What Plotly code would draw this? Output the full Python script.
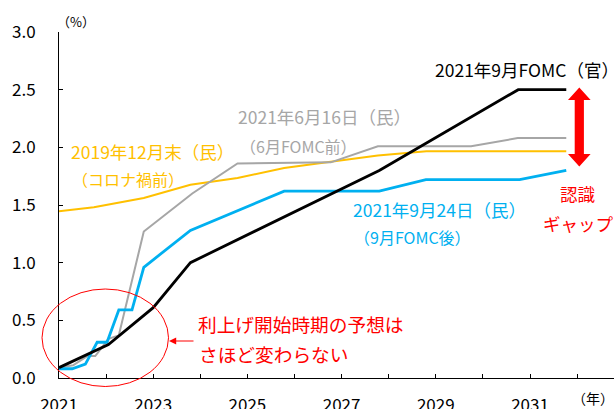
import plotly.graph_objects as go

# ---- data ----
black_x = [2021.0, 2022.05, 2023.0, 2023.79, 2027.8, 2030.75, 2031.77]
black_y = [0.09, 0.29, 0.61, 1.0, 1.8, 2.5, 2.5]

gray_x = [2021.0, 2021.3, 2021.6, 2021.77, 2022.05, 2022.27, 2022.8, 2023.83,
          2024.79, 2026.77, 2027.77, 2029.75, 2030.74, 2031.77]
gray_y = [0.09, 0.11, 0.19, 0.19, 0.34, 0.37, 1.27, 1.60,
          1.86, 1.87, 2.01, 2.01, 2.08, 2.08]

blue_x = [2021.0, 2021.28, 2021.56, 2021.81, 2022.02, 2022.27, 2022.55, 2022.8,
          2023.79, 2024.79, 2025.78, 2027.8, 2028.79, 2030.78, 2031.77]
blue_y = [0.08, 0.08, 0.12, 0.31, 0.31, 0.59, 0.59, 0.96,
          1.28, 1.45, 1.62, 1.62, 1.72, 1.72, 1.80]

yellow_x = [2021.0, 2021.74, 2022.8, 2023.79, 2024.79, 2025.78, 2026.77,
            2027.77, 2028.8, 2031.77]
yellow_y = [1.445, 1.48, 1.56, 1.675, 1.735, 1.82, 1.875,
            1.93, 1.966, 1.966]

year_ticks = list(range(2021, 2033))
year_labels = [str(y) if y % 2 == 1 else "" for y in year_ticks]
y_ticks = [0.0, 0.5, 1.0, 1.5, 2.0, 2.5, 3.0]

FONT = "Noto Sans CJK JP"
BLACK = "#000000"
GRAY = "#A6A6A6"
BLUE = "#00B0F0"
ORANGE = "#FFC000"
RED = "#FF0000"

W, H = 614, 409
ML, MR, MT, MB = 59, 0, 32, 31
PW, PH = W - ML - MR, H - MT - MB


def xp(px):
    return (px - ML) / PW


def yp(py):
    return (H - MB - py) / PH


fig = go.Figure()
fig.add_trace(go.Scatter(x=yellow_x, y=yellow_y, mode="lines",
                         line=dict(color=ORANGE, width=2), hoverinfo="skip"))
fig.add_trace(go.Scatter(x=gray_x, y=gray_y, mode="lines",
                         line=dict(color=GRAY, width=2), hoverinfo="skip"))
fig.add_trace(go.Scatter(x=blue_x, y=blue_y, mode="lines",
                         line=dict(color=BLUE, width=2.8), hoverinfo="skip"))
fig.add_trace(go.Scatter(x=black_x, y=black_y, mode="lines",
                         line=dict(color=BLACK, width=2.8), hoverinfo="skip"))


def label(text, px, py, color, size, anchor="left"):
    fig.add_annotation(text=text, xref="paper", yref="paper", x=xp(px), y=yp(py),
                       xanchor=anchor, yanchor="middle", showarrow=False,
                       font=dict(family=FONT, size=size, color=color))


label("2021年9月FOMC（官）", 621, 69, BLACK, 17.5, "right")
label("2021年6月16日（民）", 236, 116.5, GRAY, 17.5)
label("（6月FOMC前）", 238, 146, GRAY, 16)
label("2019年12月末（民）", 69, 151.5, ORANGE, 17.5)
label("（コロナ禍前）", 70, 179, ORANGE, 16)
label("2021年9月24日（民）", 351, 209, BLUE, 17.5)
label("（9月FOMC後）", 352, 237, BLUE, 16)
label("認識", 578, 193, RED, 17.5, "center")
label("ギャップ", 541, 223, RED, 17.5)
label("利上げ開始時期の予想は", 196, 323, RED, 18.7)
label("さほど変わらない", 197, 353, RED, 18.7)
label("（%）", 55, 21, BLACK, 13)
label("（年）", 570, 398, BLACK, 14)

# ellipse
fig.add_shape(type="circle", xref="paper", yref="paper",
              x0=xp(42), x1=xp(168.5), y0=yp(386.5), y1=yp(289),
              line=dict(color=RED, width=1))

# small left arrow
fig.add_annotation(xref="paper", yref="paper", x=xp(169), y=yp(341),
                   ax=26, ay=0, text="", showarrow=True, arrowhead=2,
                   arrowsize=1.2, arrowwidth=1.2, arrowcolor=RED, standoff=0)

# double arrow (cognition gap)
cx = 579.3
pts = [(cx, 87.5), (cx + 11.3, 100), (cx + 4.6, 100), (cx + 4.6, 154),
       (cx + 11.3, 154), (cx, 166.5), (cx - 11.3, 154), (cx - 4.6, 154),
       (cx - 4.6, 100), (cx - 11.3, 100)]
path = "M " + " L ".join(f"{xp(a):.5f},{yp(b):.5f}" for a, b in pts) + " Z"
fig.add_shape(type="path", xref="paper", yref="paper", path=path,
              fillcolor=RED, line=dict(color=RED, width=0))

fig.update_layout(
    width=W, height=H,
    margin=dict(l=ML, r=MR, t=MT, b=MB, autoexpand=False),
    paper_bgcolor="white", plot_bgcolor="white",
    showlegend=False,
    font=dict(family=FONT, size=17, color=BLACK),
    xaxis=dict(range=[2021, 2021 + PW / 47.1], tickvals=year_ticks,
               ticktext=year_labels, ticks="inside", ticklen=4,
               tickcolor=BLACK, showline=True, linecolor=BLACK, linewidth=1,
               showgrid=False, zeroline=False, ticklabelstandoff=12,
               automargin=False,
               tickfont=dict(family=FONT, size=17, color=BLACK)),
    yaxis=dict(range=[0, 3], tickvals=y_ticks, tickformat=".1f",
               ticks="inside", ticklen=4, tickcolor=BLACK, showline=True,
               linecolor=BLACK, linewidth=1, showgrid=False, zeroline=False,
               ticklabelstandoff=19, automargin=False,
               tickfont=dict(family=FONT, size=17, color=BLACK)),
)

fig.write_html(
    "out.html",
    config=dict(displayModeBar=False),
    post_script="document.body.style.margin='0';"
                "document.documentElement.style.overflow='hidden';",
)
